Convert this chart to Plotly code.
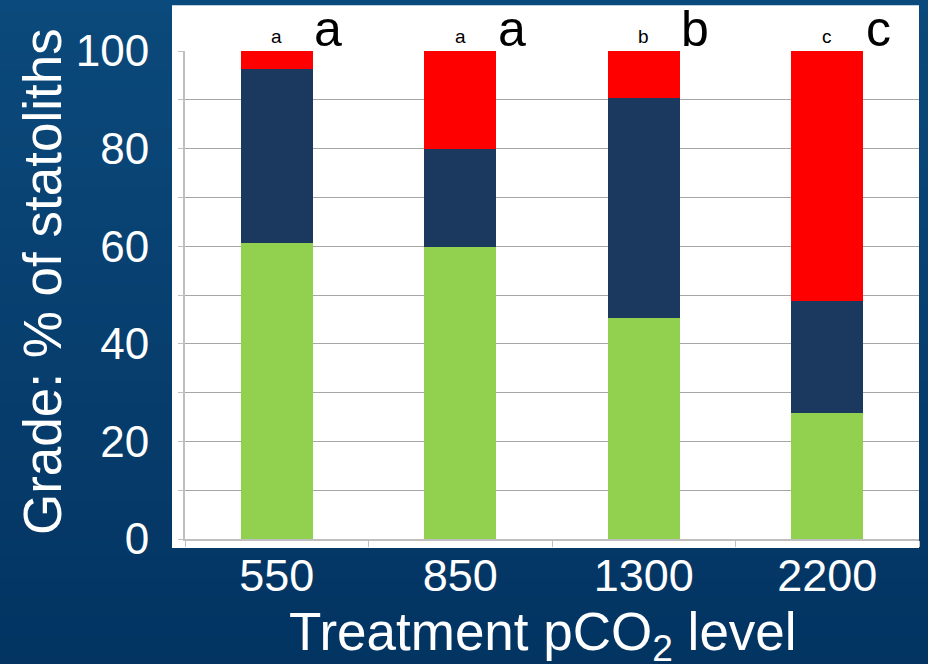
import plotly.graph_objects as go

# Treatment levels (pCO2) and the share of statoliths in each grade (%)
categories = ["550", "850", "1300", "2200"]
grade_normal = [60.7, 59.9, 45.3, 25.8]
grade_mixed = [35.6, 20.0, 45.1, 23.0]
grade_abnormal = [3.7, 20.1, 9.6, 51.2]

# Significance group letters above each bar
letters_small = ["a", "a", "b", "c"]
letters_big = ["a", "a", "b", "c"]

FONT = "Liberation Sans, Arial, sans-serif"
GREEN = "#92d050"
NAVY = "#1b385f"
RED = "#ff0000"
GRID = "#a6a6a6"
AXIS = "#bfbfbf"

fig = go.Figure()
for name, vals, col in [
    ("Normal", grade_normal, GREEN),
    ("Mixed", grade_mixed, NAVY),
    ("Abnormal", grade_abnormal, RED),
]:
    fig.add_trace(go.Bar(x=categories, y=vals, name=name,
                         marker=dict(color=col, line=dict(width=0))))

# Slide-style dark blue vertical gradient behind the chart
shapes = []
top = (12, 75, 125)
bottom = (2, 50, 96)
n = 40
for i in range(n):
    t = i / (n - 1)
    c = tuple(round(top[k] + (bottom[k] - top[k]) * t) for k in range(3))
    y1 = 1.2 - (i / n) * 1.6
    y0 = 1.2 - ((i + 1) / n) * 1.6
    shapes.append(dict(type="rect", xref="paper", yref="paper",
                       x0=-0.3, x1=1.05, y0=y0 - 0.01, y1=y1,
                       fillcolor="rgb(%d,%d,%d)" % c, line=dict(width=0),
                       layer="below"))
# White panel holding the plot
shapes.append(dict(type="rect", xref="paper", yref="paper",
                   x0=-0.0177, x1=1.0, y0=-0.0184, y1=1.094,
                   fillcolor="white", line=dict(width=0), layer="below"))

annotations = []
for i, cat in enumerate(categories):
    annotations.append(dict(x=i, y=100, xref="x", yref="y", text=letters_small[i],
                            showarrow=False, xanchor="center", yanchor="bottom",
                            yshift=2, font=dict(family=FONT, size=19, color="black")))
    annotations.append(dict(x=i + 0.28, y=100, xref="x", yref="y", text=letters_big[i],
                            showarrow=False, xanchor="center", yanchor="bottom",
                            yshift=-8, font=dict(family=FONT, size=50, color="black")))

# Axis titles
annotations.append(dict(x=0.4877, y=-0.197, xref="paper", yref="paper",
                        text="Treatment pCO<sub>2</sub> level", showarrow=False,
                        xanchor="center", yanchor="middle",
                        font=dict(family=FONT, size=53, color="white")))
annotations.append(dict(x=-0.1948, y=0.5266, xref="paper", yref="paper",
                        text="Grade: % of statoliths", showarrow=False,
                        textangle=-90, xanchor="center", yanchor="middle",
                        font=dict(family=FONT, size=53, color="white")))

fig.update_layout(
    barmode="stack",
    bargap=0.61,
    width=928, height=664,
    margin=dict(l=185, r=9, t=51, b=125),
    paper_bgcolor="#073f70",
    plot_bgcolor="white",
    showlegend=False,
    shapes=shapes,
    annotations=annotations,
    font=dict(family=FONT, color="white"),
)
fig.update_xaxes(
    type="category",
    tickson="boundaries",
    ticks="outside", ticklen=6, tickcolor=AXIS, tickwidth=1,
    showline=True, linecolor=AXIS, linewidth=2,
    showgrid=False,
    tickfont=dict(family=FONT, size=45, color="white"),
    ticklabelstandoff=-4,
)
fig.update_yaxes(
    range=[0, 100], dtick=20,
    ticks="outside", ticklen=5, tickcolor=AXIS,
    showline=True, linecolor=AXIS, linewidth=2,
    showgrid=True, gridcolor=GRID, gridwidth=1,
    minor=dict(dtick=10, showgrid=True, gridcolor=GRID, ticks="outside",
               ticklen=5, tickcolor=AXIS),
    zeroline=False,
    tickfont=dict(family=FONT, size=44, color="white"),
    ticklabelstandoff=20,
)

fig.write_html("out.html")
